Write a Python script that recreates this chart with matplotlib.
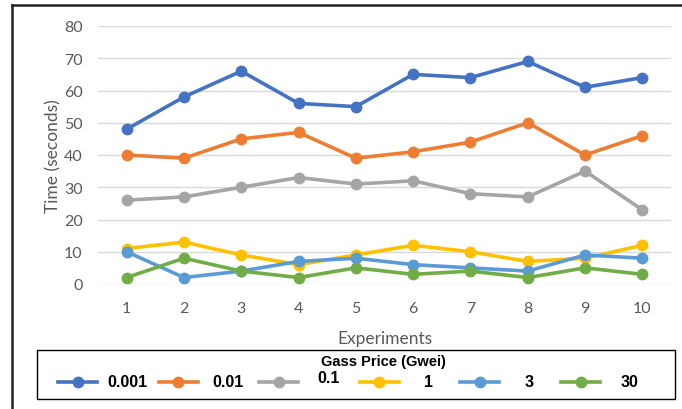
import numpy as np
import matplotlib.pyplot as plt
from matplotlib.lines import Line2D
from matplotlib.patches import Rectangle

experiments = [1, 2, 3, 4, 5, 6, 7, 8, 9, 10]
labels = ["0.001", "0.01", "0.1", "1", "3", "30"]
s_0001 = [48, 58, 66, 56, 55, 65, 64, 69, 61, 64]
s_001 = [40, 39, 45, 47, 39, 41, 44, 50, 40, 46]
s_01 = [26, 27, 30, 33, 31, 32, 28, 27, 35, 23]
s_1 = [11, 13, 9, 6, 9, 12, 10, 7, 8, 12]
s_3 = [10, 2, 4, 7, 8, 6, 5, 4, 9, 8]
s_30 = [2, 8, 4, 2, 5, 3, 4, 2, 5, 3]
series = [s_0001, s_001, s_01, s_1, s_3, s_30]
colors = ["#4472C4", "#ED7D31", "#A5A5A5", "#FFC000", "#5B9BD5", "#70AD47"]

plt.rcParams['font.family'] = ['Lato', 'DejaVu Sans']

W, H = 682, 410


def px(x):
    return x / W


def py(y):
    return 1 - y / H


fig = plt.figure(figsize=(W / 100, H / 100), dpi=100)
ax = fig.add_axes([px(98), py(285), (671 - 98) / W, (285 - 27) / H])

for vals, col, lab in zip(series, colors, labels):
    ax.plot(experiments, vals, color=col, lw=2.6, marker="o", ms=7.5,
            label=lab, solid_capstyle="round")

ax.set_xlim(0.5, 10.5)
ax.set_ylim(0, 80)
ax.set_xticks(experiments)
ax.set_yticks(np.arange(0, 81, 10))
ax.grid(axis="y", color="#D9D9D9", lw=1)
ax.set_axisbelow(True)
for sp in ax.spines.values():
    sp.set_visible(False)
ax.tick_params(length=0, labelsize=11.5, colors="#595959")
ax.tick_params(axis="x", pad=12)
ax.tick_params(axis="y", pad=11)
ax.set_xlabel("Experiments", fontsize=12.5, color="#595959", labelpad=11)
ax.set_ylabel("Time (seconds)", fontsize=12.5, color="#595959", labelpad=2)

# legend drawn like the Excel one: equal slots, text centred in each slot
fig.add_artist(Rectangle((px(37), py(400)), px(675) - px(37), py(351) - py(400),
                         transform=fig.transFigure, fill=False, ec="black", lw=1.0))
fig.text(px(383), py(362), "Gass Price (Gwei)", ha="center", va="center",
         family="Liberation Sans", weight="bold", fontsize=10.5)
slot = 100.6
for i, (col, lab) in enumerate(zip(colors, labels)):
    x0 = 58 + slot * i
    x1 = x0 + 39
    ly = 383
    fig.add_artist(Line2D([px(x0), px(x1)], [py(ly), py(ly)], color=col, lw=2.6,
                          transform=fig.transFigure))
    fig.add_artist(Line2D([px((x0 + x1) / 2)], [py(ly)], color=col, marker="o", ms=7.5,
                          transform=fig.transFigure))
    ty = ly - 4 if lab == "0.1" else ly
    fig.text(px(x1 + 30), py(ty), lab, ha="center", va="center",
             family="Liberation Sans", weight="bold", fontsize=11.5)

# outer border (left and top)
fig.add_artist(Line2D([px(12), px(12)], [0, py(6)], color="#222222", lw=1.8,
                      transform=fig.transFigure))
fig.add_artist(Line2D([px(12), 1], [py(6), py(6)], color="#222222", lw=1.8,
                      transform=fig.transFigure))

fig.savefig("out.png", dpi=100)
